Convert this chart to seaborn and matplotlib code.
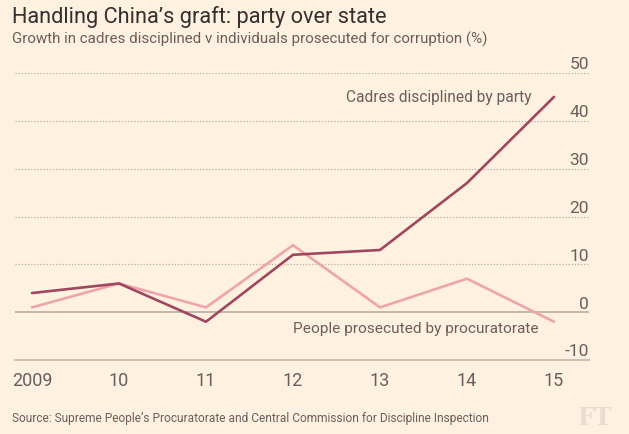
import matplotlib
matplotlib.use("Agg")
import matplotlib.pyplot as plt
import seaborn as sns
import pandas as pd

years = [2009, 2010, 2011, 2012, 2013, 2014, 2015]
year_labels = ["2009", "10", "11", "12", "13", "14", "15"]
cadres = [4, 6, -2, 12, 13, 27, 45]
people = [1, 6, 1, 14, 1, 7, -2]
y_ticks = [-10, 0, 10, 20, 30, 40, 50]
series_names = ["Cadres disciplined by party", "People prosecuted by procuratorate"]

df = pd.DataFrame({
    "year": years * 2,
    "value": cadres + people,
    "series": [series_names[0]] * len(years) + [series_names[1]] * len(years),
})

BG = "#fff1e0"
TXT = "#66605c"
DARK = "#a0475f"
LIGHT = "#eea5a9"

sns.set_style("white")
plt.rcParams["font.family"] = ["Roboto", "DejaVu Sans"]

fig = plt.figure(figsize=(6.29, 4.35), dpi=100, facecolor=BG)
ax = fig.add_axes([15 / 629, 1 - 361 / 435, (589 - 15) / 629, (361 - 74) / 435])
ax.set_facecolor(BG)

# gridlines
for t in y_ticks[2:]:
    ax.axhline(t, color="#b8ada4", lw=0.9, ls=(0, (1, 1.5)), zorder=0)
ax.axhline(0, color="#b8ada4", lw=1.2, zorder=1)

sns.lineplot(data=df, x="year", y="value", hue="series",
             hue_order=[series_names[1], series_names[0]],
             palette={series_names[0]: DARK, series_names[1]: LIGHT},
             lw=1.9, ax=ax, legend=False, zorder=3)

ax.set_xlim(2009 - 17 / 87, 2015 + 35 / 87)
ax.set_ylim(-10, 50)
for s in ["top", "right", "left"]:
    ax.spines[s].set_visible(False)
ax.spines["bottom"].set_color("#ccc1b7")
ax.spines["bottom"].set_linewidth(1.5)
ax.set_yticks([])
ax.set_xticks(years)
ax.set_xticklabels(year_labels, fontsize=13, color=TXT)
ax.tick_params(axis="x", length=4.3, width=1, color="#ccc1b7", pad=3.5)
ax.set_xlabel("")
ax.set_ylabel("")

for t in y_ticks:
    ax.annotate(str(t), xy=(1, t), xycoords=("axes fraction", "data"),
                xytext=(0, 6.5), textcoords="offset points",
                ha="right", va="center", fontsize=12.5, color=TXT)

ax.text(2014.74, 45.0, series_names[0], ha="right", va="center", fontsize=11.2, color=TXT)
ax.text(2012.0, -3.3, series_names[1], ha="left", va="center", fontsize=11.1, color=TXT)

fig.text(12 / 629, 1 - 17 / 435, "Handling China\u2019s graft: party over state",
         fontsize=15.7, color="#33302e", va="center", ha="left")
fig.text(12 / 629, 1 - 39 / 435,
         "Growth in cadres disciplined v individuals prosecuted for corruption (%)",
         fontsize=10.9, color=TXT, va="center", ha="left")
fig.text(12 / 629, 1 - 419 / 435,
         "Source: Supreme People\u2019s Procuratorate and Central Commission for Discipline Inspection",
         fontsize=8.6, color=TXT, va="center", ha="left")
fig.text(612 / 629, 1 - 418 / 435, "FT", fontsize=17, fontweight="bold",
         family="DejaVu Serif", color="#e6dccf", ha="right", va="center")

fig.savefig("out.png", dpi=100, facecolor=BG)
